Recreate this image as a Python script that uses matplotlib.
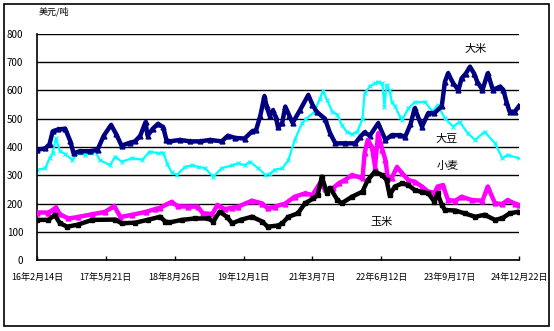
import matplotlib
matplotlib.use("Agg")
import matplotlib.pyplot as plt
from matplotlib.patches import Rectangle

plt.rcParams['font.family'] = ['Noto Sans CJK SC', 'DejaVu Sans']

# weekly index, 0 = 2016-02-14
tick_weeks = [0, 66, 132, 198, 264, 330, 396, 462]
tick_labels = ['16年2月14日', '17年5月21日', '18年8月26日', '19年12月1日',
               '21年3月7日', '22年6月12日', '23年9月17日', '24年12月22日']

rice_wk = [0, 8, 12, 15, 20, 27, 32, 35, 41, 51, 58, 64, 71, 76, 81, 89, 94, 99, 104, 106,
           111, 116, 121, 124, 127, 137, 147, 156, 166, 177, 183, 190, 199, 206, 210, 214, 218, 220, 223, 226,
           229, 231, 235, 238, 242, 245, 252, 260, 264, 268, 276, 281, 286, 295, 305, 310, 314, 319, 327, 334,
           340, 348, 353, 358, 362, 369, 375, 381, 388, 391, 394, 399, 404, 407, 411, 415, 419, 422, 427, 432,
           437, 444, 447, 450, 453, 458, 462]
rice = [390, 395, 410, 455, 462, 465, 420, 378, 385, 385, 390, 440, 478, 445, 405, 415, 420, 440, 488, 440,
        465, 482, 470, 425, 420, 425, 420, 420, 425, 420, 440, 432, 430, 455, 460, 510, 580, 545, 510, 530,
        505, 470, 485, 543, 510, 485, 530, 584, 550, 525, 500, 448, 413, 413, 413, 437, 452, 440, 484, 425,
        442, 442, 437, 480, 537, 472, 520, 520, 545, 631, 661, 625, 602, 643, 660, 684, 660, 631, 602, 661,
        602, 614, 602, 560, 525, 525, 545]

soy_wk = [0, 8, 12, 15, 18, 22, 27, 34, 39, 46, 53, 56, 60, 70, 75, 81, 91, 101, 108, 116,
          121, 125, 129, 134, 142, 149, 154, 161, 169, 177, 187, 193, 199, 204, 212, 219, 223, 228, 235, 241,
          247, 254, 258, 266, 271, 274, 278, 283, 288, 292, 297, 302, 307, 312, 314, 319, 324, 327, 331, 333,
          335, 338, 340, 343, 348, 350, 356, 362, 372, 379, 384, 391, 399, 405, 413, 420, 429, 439, 446, 451,
          462]
soy = [319, 325, 360, 378, 431, 385, 375, 354, 378, 372, 378, 385, 354, 336, 366, 348, 360, 355, 384, 378,
       380, 340, 310, 301, 330, 335, 330, 325, 295, 325, 335, 342, 335, 348, 325, 301, 305, 320, 324, 354,
       425, 484, 500, 525, 570, 598, 567, 525, 515, 478, 454, 445, 454, 500, 590, 615, 625, 631, 625, 543,
       620, 600, 560, 545, 507, 496, 537, 558, 560, 525, 549, 501, 472, 490, 448, 425, 454, 413, 360, 372,
       360]

wheat_wk = [0, 11, 15, 18, 22, 30, 39, 53, 65, 74, 80, 91, 104, 113, 118, 129, 135, 145, 154, 159,
            168, 173, 180, 187, 193, 206, 216, 221, 228, 238, 247, 257, 264, 271, 276, 284, 289, 295, 302, 312,
            314, 317, 321, 324, 327, 331, 334, 336, 340, 345, 350, 356, 362, 369, 375, 381, 384, 389, 394, 401,
            407, 417, 427, 432, 439, 446, 451, 458, 462]
wheat = [168, 168, 177, 186, 162, 147, 152, 162, 170, 191, 152, 160, 170, 180, 185, 206, 190, 189, 189, 165,
         163, 195, 180, 185, 189, 210, 200, 183, 189, 200, 224, 236, 230, 271, 250, 255, 271, 283, 301, 289,
         378, 425, 400, 330, 448, 390, 354, 295, 290, 329, 307, 283, 277, 260, 242, 238, 260, 265, 212, 210,
         224, 212, 210, 260, 201, 198, 212, 200, 195]

corn_wk = [0, 11, 17, 22, 29, 39, 53, 75, 81, 94, 106, 118, 123, 127, 139, 151, 164, 169, 175, 182,
           187, 196, 206, 216, 221, 231, 235, 241, 250, 257, 265, 269, 273, 278, 281, 288, 292, 302, 312, 317,
           324, 331, 335, 338, 343, 350, 356, 362, 369, 375, 381, 384, 388, 391, 401, 410, 420, 429, 439, 446,
           453, 462]
corn = [142, 142, 159, 130, 118, 125, 142, 143, 130, 132, 142, 153, 136, 133, 142, 147, 147, 136, 171, 153,
        130, 143, 153, 136, 118, 122, 130, 153, 165, 201, 218, 230, 295, 236, 255, 212, 201, 224, 242, 283,
        313, 300, 283, 230, 260, 271, 265, 248, 240, 236, 206, 236, 195, 177, 175, 165, 153, 160, 142, 148,
        165, 171]

W, H = 554, 331
fig = plt.figure(figsize=(W / 100, H / 100), dpi=100)
fig.patches.append(Rectangle((4 / W, 5 / H), 545 / W, 322 / H, transform=fig.transFigure,
                             fill=False, edgecolor='black', linewidth=1.2))
ax = fig.add_axes([37 / W, 71 / H, 482 / W, 226 / H])

ax.plot(soy_wk, soy, color='#00FFFF', lw=1.6, marker='x', ms=2.5, mew=0.8, zorder=2)
ax.plot(rice_wk, rice, color='#000080', lw=3.2, marker='^', ms=3.5, zorder=3)
ax.plot(wheat_wk, wheat, color='#FF00FF', lw=3.2, marker='^', ms=3.5, zorder=4)
ax.plot(corn_wk, corn, color='black', lw=3.2, marker='s', ms=2.5, zorder=5)

ax.set_xlim(0, 462)
ax.set_ylim(0, 800)
ax.set_yticks(range(0, 801, 100))
ax.set_xticks(tick_weeks)
ax.set_xticklabels(tick_labels, fontsize=6.5)
ax.tick_params(axis='y', length=0, pad=10, labelsize=7)
ax.tick_params(axis='x', direction='in', length=3, pad=9, width=1)
ax.grid(axis='y', color='black', lw=1)
ax.set_axisbelow(True)
for side in ('top', 'right'):
    ax.spines[side].set_visible(False)
for side in ('left', 'bottom'):
    ax.spines[side].set_linewidth(1.2)

ax.text(420, 747, '大米', fontsize=8, ha='center', va='center')
ax.text(393, 428, '大豆', fontsize=8, ha='center', va='center')
ax.text(394, 333, '小麦', fontsize=8, ha='center', va='center')
ax.text(330, 135, '玉米', fontsize=8, ha='center', va='center')
fig.text(39 / W, 1 - 12 / H, '美元/吨', fontsize=6.5, ha='left', va='center')

fig.savefig('out.png', dpi=100)
